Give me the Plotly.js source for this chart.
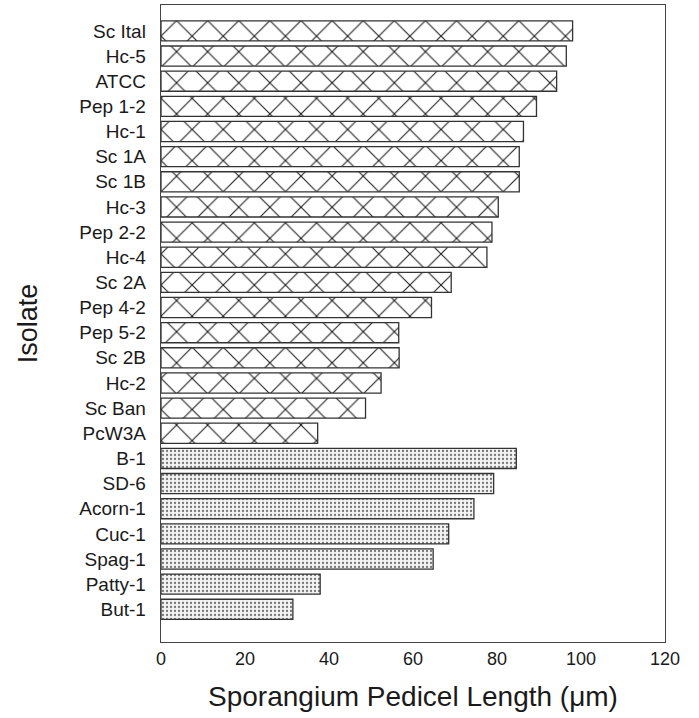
<!DOCTYPE html>
<html>
<head>
<meta charset="utf-8">
<script src="https://cdn.plot.ly/plotly-3.0.1.min.js"></script>
<style>html,body{margin:0;padding:0;background:#fff;}#chart{width:699px;height:718px;}</style>
</head>
<body>
<div id="chart"></div>
<script>
// Isolates with crosshatched bars (top group)
const hatchedIsolates = ["Sc Ital","Hc-5","ATCC","Pep 1-2","Hc-1","Sc 1A","Sc 1B","Hc-3","Pep 2-2","Hc-4","Sc 2A","Pep 4-2","Pep 5-2","Sc 2B","Hc-2","Sc Ban","PcW3A"];
const hatchedValues = [98.0, 96.5, 94.2, 89.4, 86.3, 85.3, 85.3, 80.3, 78.8, 77.6, 69.1, 64.4, 56.6, 56.7, 52.4, 48.7, 37.3];
// Isolates with stippled bars (bottom group)
const dottedIsolates = ["B-1","SD-6","Acorn-1","Cuc-1","Spag-1","Patty-1","But-1"];
const dottedValues = [84.6, 79.2, 74.5, 68.5, 64.8, 37.9, 31.4];
const xTicks = [0, 20, 40, 60, 80, 100, 120];

const allIsolates = hatchedIsolates.concat(dottedIsolates);
const font = "Liberation Sans, Arial, Helvetica, sans-serif";

const traces = [
  {
    type: "bar", orientation: "h",
    y: hatchedIsolates, x: hatchedValues,
    width: 0.8,
    marker: {
      color: "#ffffff",
      line: {color: "#333333", width: 1.3},
      pattern: {shape: "x", size: 22, solidity: 0.1, fgcolor: "#222222", bgcolor: "#ffffff", fillmode: "replace"}
    },
    hoverinfo: "x+y", showlegend: false
  },
  {
    type: "bar", orientation: "h",
    y: dottedIsolates, x: dottedValues,
    width: 0.8,
    marker: {
      color: "#ffffff",
      line: {color: "#333333", width: 1.3},
      pattern: {shape: ".", size: 4, solidity: 0.25, fgcolor: "#777777", bgcolor: "#f3f3f3", fillmode: "replace"}
    },
    hoverinfo: "x+y", showlegend: false
  }
];

const layout = {
  width: 699, height: 718,
  margin: {l: 161, r: 34, t: 5, b: 76},
  paper_bgcolor: "#ffffff", plot_bgcolor: "#ffffff",
  font: {family: font, color: "#1a1a1a", size: 19},
  xaxis: {
    range: [0, 120],
    tickvals: xTicks,
    ticktext: xTicks.map(String),
    showgrid: false, zeroline: false,
    showline: true, mirror: true, linecolor: "#444444", linewidth: 1.3,
    ticks: "", ticklabelstandoff: 0,
    tickfont: {family: font, size: 18, color: "#1a1a1a"},
    title: {text: "Sporangium Pedicel Length (μm)", font: {family: font, size: 28, color: "#1a1a1a"}, standoff: 18}
  },
  yaxis: {
    type: "category",
    categoryorder: "array", categoryarray: allIsolates,
    range: [24.3, -1.03],
    showgrid: false, zeroline: false,
    showline: true, mirror: true, linecolor: "#444444", linewidth: 1.3,
    ticks: "", ticklabelstandoff: 10,
    tickfont: {family: font, size: 19, color: "#1a1a1a"},
    title: {text: "Isolate", font: {family: font, size: 27, color: "#1a1a1a"}, standoff: 34}
  }
};

Plotly.newPlot("chart", traces, layout, {displayModeBar: false, staticPlot: true});
</script>
</body>
</html>
